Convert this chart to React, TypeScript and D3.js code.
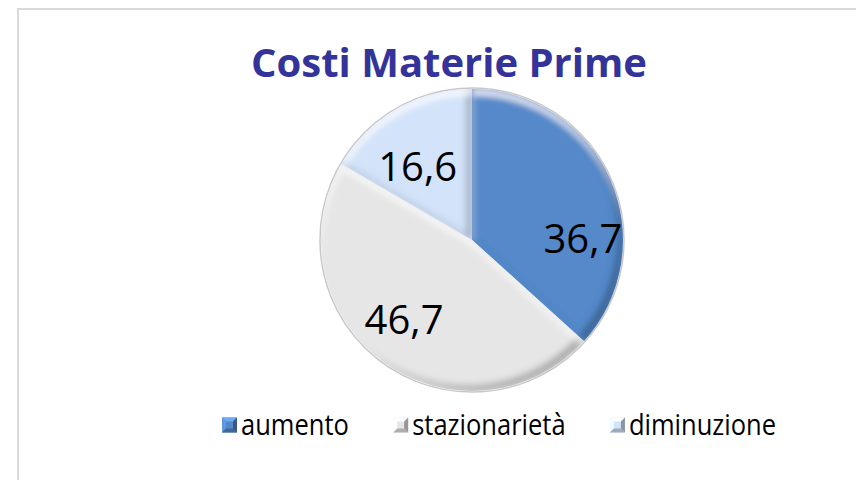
import React, { useEffect, useRef } from 'react';
import * as d3 from 'd3';

const categories = ['aumento', 'stazionarietà', 'diminuzione'];
const values = [36.7, 46.7, 16.6];
const valueLabels = ['36,7', '46,7', '16,6'];
const title = 'Costi Materie Prime';

const colors = ['#5489c9', '#e6e6e6', '#d3e3f9'];
// small nudges so labels sit where Excel's best-fit put them
const labelNudge = [
  [15, 41],
  [-6, -5],
  [-2, 18],
];

function App() {
  const svgRef = useRef<SVGSVGElement>(null);

  useEffect(() => {
    const width = 856;
    const height = 480;
    const cx = 472;
    const cy = 240;
    const radius = 151;

    const svg = d3.select(svgRef.current).attr('width', width).attr('height', height);
    svg.selectAll('*').remove();

    // soft bevel: dark band on edges facing down/right, light band on edges facing up
    const defs = svg.append('defs');
    const f = defs
      .append('filter')
      .attr('id', 'bevel')
      .attr('x', '-10%')
      .attr('y', '-10%')
      .attr('width', '120%')
      .attr('height', '120%');
    f.append('feOffset').attr('in', 'SourceAlpha').attr('dx', -5).attr('dy', -5).attr('result', 'upL');
    f.append('feComposite').attr('in', 'SourceAlpha').attr('in2', 'upL').attr('operator', 'out').attr('result', 'shMask');
    f.append('feGaussianBlur').attr('in', 'shMask').attr('stdDeviation', 3.5).attr('result', 'shBlur');
    f.append('feComposite').attr('in', 'shBlur').attr('in2', 'SourceAlpha').attr('operator', 'in').attr('result', 'shClip');
    f.append('feFlood').attr('flood-color', '#000').attr('flood-opacity', 0.6).attr('result', 'shCol');
    f.append('feComposite').attr('in', 'shCol').attr('in2', 'shClip').attr('operator', 'in').attr('result', 'shadow');
    f.append('feOffset').attr('in', 'SourceAlpha').attr('dx', 1).attr('dy', 6).attr('result', 'dnR');
    f.append('feComposite').attr('in', 'SourceAlpha').attr('in2', 'dnR').attr('operator', 'out').attr('result', 'hlMask');
    f.append('feGaussianBlur').attr('in', 'hlMask').attr('stdDeviation', 3).attr('result', 'hlBlur');
    f.append('feComposite').attr('in', 'hlBlur').attr('in2', 'SourceAlpha').attr('operator', 'in').attr('result', 'hlClip');
    f.append('feFlood').attr('flood-color', '#fff').attr('flood-opacity', 0.85).attr('result', 'hlCol');
    f.append('feComposite').attr('in', 'hlCol').attr('in2', 'hlClip').attr('operator', 'in').attr('result', 'highlight');
    const merge = f.append('feMerge');
    merge.append('feMergeNode').attr('in', 'SourceGraphic');
    merge.append('feMergeNode').attr('in', 'shadow');
    merge.append('feMergeNode').attr('in', 'highlight');

    // chart border (right and bottom run off the picture)
    svg
      .append('rect')
      .attr('x', 18)
      .attr('y', 9)
      .attr('width', 900)
      .attr('height', 520)
      .attr('fill', '#fff')
      .attr('stroke', '#d9d9d9')
      .attr('stroke-width', 2);

    svg
      .append('text')
      .attr('x', 449)
      .attr('y', 77)
      .attr('text-anchor', 'middle')
      .attr('font-family', 'Open Sans, sans-serif')
      .attr('font-weight', 'bold')
      .attr('font-size', 40)
      .attr('fill', '#333399')
      .text(title);

    const pie = d3.pie<number>().sort(null).value((d) => d);
    const arcs = pie(values);
    const arc = d3.arc<d3.PieArcDatum<number>>().innerRadius(0).outerRadius(radius);
    const labelArc = d3.arc<d3.PieArcDatum<number>>().innerRadius(105).outerRadius(105);

    const g = svg.append('g').attr('transform', `translate(${cx},${cy})`);

    g.append('circle').attr('r', radius + 1).attr('fill', 'none').attr('stroke', '#c8c8c8').attr('stroke-width', 1.5);

    g.selectAll('.slice')
      .data(arcs)
      .enter()
      .append('path')
      .attr('class', 'slice')
      .attr('d', arc)
      .attr('fill', (_, i) => colors[i])
      .attr('filter', 'url(#bevel)');

    g.selectAll('.lbl')
      .data(arcs)
      .enter()
      .append('text')
      .attr('class', 'lbl')
      .attr('x', (d, i) => labelArc.centroid(d)[0] + labelNudge[i][0])
      .attr('y', (d, i) => labelArc.centroid(d)[1] + labelNudge[i][1])
      .attr('dy', '0.36em')
      .attr('text-anchor', 'middle')
      .attr('font-family', 'Open Sans, sans-serif')
      .attr('font-size', 40)
      .attr('fill', '#000')
      .text((_, i) => valueLabels[i]);

    // legend (text squeezed a little to get Calibri-like widths)
    const legendY = 425;
    const box = 15;
    const fontSize = 29;
    const squeeze = 0.88;
    const legLeft = 222;
    const legRight = 776;
    const leg = svg.append('g');
    const items = leg
      .selectAll('.item')
      .data(categories)
      .enter()
      .append('g')
      .attr('class', 'item');
    items
      .append('text')
      .attr('font-family', 'Open Sans, sans-serif')
      .attr('font-size', fontSize)
      .attr('fill', '#000')
      .attr('transform', `translate(${box + 4},${legendY}) scale(${squeeze},1)`)
      .attr('dy', '0.35em')
      .text((d) => d);
    const widths: number[] = [];
    items.selectAll('text').each(function () {
      widths.push((this as SVGTextElement).getComputedTextLength() * squeeze);
    });
    const used = d3.sum(widths) + categories.length * (box + 4);
    const gap = (legRight - legLeft - used) / (categories.length - 1);
    let x0 = legLeft;
    items.each(function (d, i) {
      const it = d3.select(this);
      it.attr('transform', `translate(${x0},0)`);
      const y0 = legendY - box / 2;
      const c = d3.color(colors[i])!;
      const inset = 4;
      it.append('rect').attr('x', 0).attr('y', y0).attr('width', box).attr('height', box).attr('fill', colors[i]);
      const tri = (pts: number[][], fill: string) =>
        it
          .append('polygon')
          .attr('points', pts.map((p) => `${p[0]},${y0 + p[1]}`).join(' '))
          .attr('fill', fill);
      tri([[0, 0], [box, 0], [box - inset, inset], [inset, inset]], c.brighter(0.6).toString());
      tri([[0, 0], [inset, inset], [inset, box - inset], [0, box]], c.brighter(0.3).toString());
      tri([[box, 0], [box, box], [box - inset, box - inset], [box - inset, inset]], c.darker(1.2).toString());
      tri([[0, box], [inset, box - inset], [box - inset, box - inset], [box, box]], c.darker(0.8).toString());
      x0 += box + 4 + widths[i] + gap;
    });
  }, []);

  return <svg ref={svgRef} style={{ display: 'block', position: 'absolute', left: 0, top: 0 }}></svg>;
}

export default App;
